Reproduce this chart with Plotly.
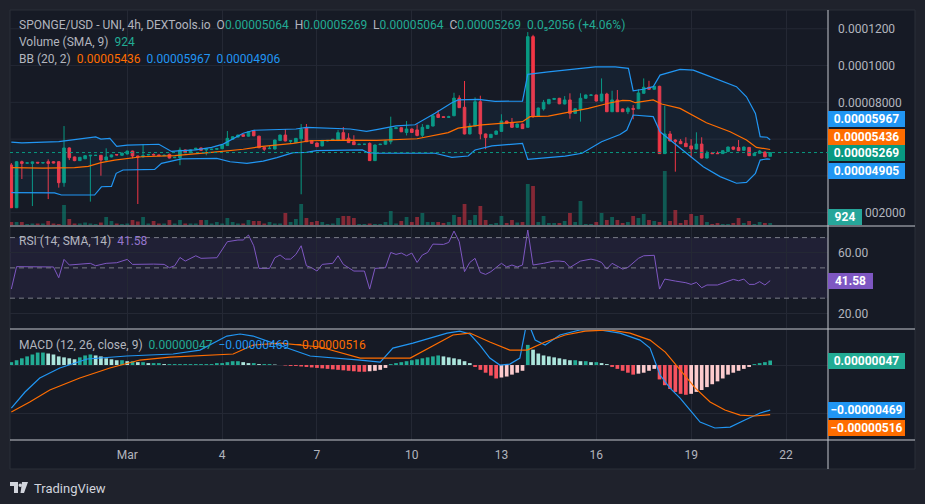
import plotly.graph_objects as go

# ---------------- data (prices in 1e-5 units) ----------------
open_e5 = [4.59,2.27,4.77,4.69,4.68,4.74,4.70,4.77,4.77,4.77,3.63,5.52,5.03,4.83,4.93,5.09,5.11,5.12,4.86,5.03,
           5.16,5.12,5.19,5.35,5.08,5.03,5.14,5.16,5.14,5.10,5.17,4.99,4.99,5.41,5.26,5.45,5.52,5.41,5.43,5.45,
           5.48,5.65,5.99,6.11,6.24,6.16,6.46,6.16,5.55,5.48,5.46,5.92,6.22,5.88,5.81,6.02,6.62,5.92,5.79,5.63,
           5.90,5.93,5.92,6.35,6.05,5.86,5.70,5.72,5.77,4.83,5.70,5.72,5.86,6.57,6.62,6.36,6.55,6.50,6.21,6.58,
           6.71,7.35,7.22,7.18,7.27,8.23,7.73,6.28,6.71,8.03,6.28,6.08,6.26,6.42,6.98,6.91,6.64,6.82,6.64,11.57,
           7.26,7.64,7.92,8.16,8.22,7.91,8.13,7.40,7.62,8.22,8.38,8.40,8.07,8.45,7.49,8.13,7.64,7.49,7.67,7.65,
           8.49,8.82,8.71,8.87,5.21,6.28,5.95,5.88,5.77,5.63,5.46,5.73,4.97,5.25,5.23,5.21,5.32,5.57,5.54,5.39,
           5.55,5.10,5.23,5.30,5.064]
high_e5 = [4.70,4.80,4.83,4.72,4.78,4.75,4.73,4.90,4.80,4.80,6.71,5.55,5.05,5.03,5.12,5.14,5.14,5.14,5.50,5.16,
           5.19,5.26,5.37,5.37,5.10,5.72,5.18,5.22,5.16,5.16,5.21,5.03,5.55,5.43,5.43,5.52,5.54,5.52,5.47,5.50,
           5.70,6.44,6.15,6.24,6.26,6.42,6.48,6.18,5.57,5.64,5.97,6.24,6.55,5.94,6.06,6.82,6.82,5.94,5.81,5.95,
           5.95,6.01,6.49,6.66,6.32,6.21,5.74,5.74,5.82,5.70,5.74,5.92,7.22,6.64,6.64,6.98,6.57,6.80,6.82,6.77,
           7.29,7.58,7.24,7.27,8.52,8.38,9.16,6.86,8.27,8.36,6.30,6.28,6.46,7.35,7.00,7.15,6.84,6.84,11.82,11.67,
           7.71,8.13,8.18,8.23,8.24,8.34,8.49,7.67,8.49,8.42,8.42,8.42,9.30,8.52,8.63,8.67,7.66,7.76,7.85,8.71,
           9.30,9.17,8.89,8.90,7.81,6.44,5.99,6.00,6.10,6.00,6.37,6.10,5.37,5.30,5.33,5.39,5.59,5.59,5.95,5.59,
           5.57,5.25,5.41,5.32,5.269]
low_e5 = [2.25,2.25,3.83,4.68,2.36,4.69,4.69,2.74,4.68,3.36,3.41,4.86,4.80,4.81,4.92,2.60,5.09,4.01,4.84,5.01,
          5.12,5.10,5.17,4.96,2.47,5.01,5.12,5.12,5.08,5.08,4.95,4.97,4.58,5.24,5.24,5.43,5.37,5.12,5.41,5.43,
          5.46,5.63,5.97,6.09,6.13,6.14,6.16,5.51,5.35,5.46,5.44,5.90,5.88,5.75,5.79,3.00,5.84,5.75,5.57,5.61,
          5.88,5.91,5.90,5.97,5.79,5.68,5.68,5.70,4.81,4.81,5.68,5.70,5.72,6.55,6.38,6.20,6.34,6.15,6.10,6.56,
          6.69,7.16,7.16,7.16,7.25,7.69,6.26,6.26,6.69,5.99,5.45,6.06,6.24,6.40,6.84,6.62,6.62,6.55,6.62,7.15,
          7.24,7.55,7.90,8.14,7.90,7.89,7.11,7.38,6.95,8.20,8.36,8.05,8.05,7.47,7.47,7.47,7.47,7.36,7.08,7.63,
          8.47,8.69,8.69,5.19,5.19,5.88,4.23,5.73,5.57,4.99,5.44,4.95,4.95,5.19,5.19,5.19,5.30,5.40,5.35,5.37,
          5.08,5.08,5.21,5.02,5.064]
close_e5 = [2.27,4.77,4.68,4.71,4.76,4.70,4.72,4.68,4.70,3.63,5.52,4.99,4.83,5.01,5.10,5.12,5.12,4.86,5.03,5.14,
            5.14,5.24,5.35,5.08,5.03,5.10,5.16,5.14,5.10,5.12,4.97,5.01,5.41,5.26,5.41,5.50,5.39,5.48,5.45,5.48,
            5.68,6.04,6.13,6.22,6.15,6.40,6.18,5.53,5.45,5.50,5.95,6.22,5.90,5.92,6.04,6.53,5.86,5.77,5.59,5.93,
            5.93,5.99,6.35,5.99,5.81,5.70,5.72,5.72,4.83,5.68,5.72,5.90,6.59,6.62,6.40,6.55,6.36,6.20,6.64,6.75,
            7.27,7.18,7.18,7.22,8.23,7.71,6.28,6.71,8.03,6.28,6.08,6.26,6.44,6.98,6.86,6.64,6.82,6.57,11.57,7.26,
            7.69,8.00,8.16,8.21,7.92,8.13,7.40,7.65,8.22,8.40,8.40,8.07,8.45,7.49,8.13,7.49,7.49,7.67,7.62,8.51,
            8.82,8.71,8.87,5.21,6.28,5.90,5.88,5.75,5.59,5.46,5.73,4.97,5.23,5.21,5.21,5.37,5.57,5.45,5.37,5.57,
            5.10,5.23,5.35,5.04,5.269]
volume = [1380,1380,1380,460,690,690,690,1840,690,460,9200,2760,690,690,1150,690,460,1150,3680,1840,
          690,460,690,2300,1610,3680,690,1840,690,690,2300,690,2300,690,690,690,2300,2300,690,1380,
          690,3220,1380,690,690,2300,1840,1840,690,1380,690,690,5520,1380,2760,9660,3220,1380,1840,1380,
          460,690,3220,4140,4140,3220,460,460,690,460,460,1380,6440,690,1840,3680,1380,3680,5520,1380,
          1380,1380,920,1380,4600,3680,9660,2300,4600,8740,2300,460,920,4140,920,2300,1150,1380,18860,17940,
          1380,4140,920,920,920,1840,5520,1380,11040,460,460,1380,5520,2300,3680,2300,920,1380,4140,3220,
          5060,2300,1840,1380,24840,1840,6900,920,2300,5060,4140,4600,1380,460,920,460,460,920,3220,920,
          1840,460,1380,920,924]

bb_upper_idx = [0,2,9,16,17,18.7,20,22,28,30.4,31.6,35,38,40.2,44,46,54,56,64.3,67.4,69.3,73,76.6,80.4,83.6,
                84.8,88.6,91.8,97,98,101.9,105.7,110.8,114.6,117.1,118,119.9,121.8,123.1,126.9,129.4,131.9,
                134.5,137.6,139.5,141.2,142.1,143.4,144]
bb_upper_e5 = [5.84,5.79,5.86,6.12,6.00,6.04,5.60,5.67,5.72,5.33,5.36,5.42,5.55,5.73,6.32,6.48,6.55,6.64,6.55,
               6.42,6.52,6.72,6.78,7.40,7.98,8.13,8.16,8.05,8.07,9.52,9.66,9.76,9.93,9.93,9.85,8.63,8.71,8.85,
               9.48,9.79,9.75,9.48,9.21,8.85,8.30,7.40,6.13,6.10,5.967]
bb_mid_idx = [0,6,12,14.6,17,19.6,24.7,31,38.5,44,47.2,53.5,56.7,63,69.3,77,82.9,84.8,89.3,97,98.4,101.9,106.3,
              109.5,113.3,116,117.4,118.4,121.8,123.4,126.9,131.9,136.4,139.5,141.4,143.4,144]
bb_mid_e5 = [4.45,4.42,4.45,4.52,4.72,4.86,5.04,5.10,5.29,5.45,5.59,5.77,5.91,5.95,5.93,6.02,6.35,6.60,6.77,6.95,
             7.22,7.25,7.49,7.67,7.95,8.11,8.09,7.98,8.13,7.91,7.67,6.89,6.40,5.95,5.55,5.48,5.436]
bb_lower_idx = [0,8.2,9.5,15.8,17.1,19,19.9,21.2,27.2,28.5,32.3,39,41.5,44.7,47.8,50.4,53.5,56,57.9,66.6,67.7,
                69.3,80.4,83.6,86.7,88,91.2,97,98,105.1,108.3,112,115.5,116.8,118,121.8,123.1,126.9,131.3,
                134.5,137.6,139.5,141.2,142.1,143.4,144]
bb_lower_e5 = [3.09,3.08,2.96,2.96,3.41,3.43,4.14,4.32,4.35,4.68,4.92,4.95,4.77,4.68,4.80,4.99,5.26,5.28,5.37,
               5.41,5.26,5.23,5.23,5.01,5.08,5.41,5.63,5.77,4.90,5.08,5.23,5.86,6.25,6.49,7.31,7.22,6.40,5.50,
               4.50,3.96,3.60,3.65,4.14,4.86,4.93,4.906]

rsi_idx = [0,1,8,9,10,11,15,16,18,20,22,23,27,29,30,31,32,33,35,36,39,41,43,44,45,46,47,49,50,51,52,53,54,55,
           56,57,58,59,61,62,63,65,67,68,69,71,72,73,74,75,76,77,78,79,80,82,83,84,85,86,87,88,89,90,91,93,94,
           95,96,97,98,99,101,103,104,105,106,108,110,111,112,113,114,116,117,119,120,122,123,124,126,128,129,
           130,131,132,134,137,138,139,140,141,142,143,144]
rsi_val = [36.0,50.8,50.6,43.5,55.6,51.9,53.0,51.4,53.0,53.4,55.6,52.3,52.5,52.3,50.1,51.4,56.9,54.5,58.0,56.3,
           56.7,67.3,68.4,68.4,71.7,64.6,49.7,49.7,56.7,58.5,55.8,55.8,58.9,64.6,51.4,50.1,47.9,52.3,53.0,58.0,
           52.3,47.9,47.9,36.0,49.7,50.1,60.2,58.9,59.8,58.0,59.8,53.6,58.5,60.2,65.7,65.5,66.8,74.3,67.3,47.5,
           53.6,56.3,47.0,45.7,47.5,53.0,50.6,51.9,50.6,51.9,75.0,51.9,53.0,54.5,54.5,54.1,50.3,54.5,55.8,55.0,
           53.6,49.2,53.0,49.2,50.3,56.3,58.0,58.3,36.0,42.6,41.3,40.2,39.1,40.4,36.9,38.7,38.7,42.4,41.5,42.6,
           39.1,39.1,40.9,38.7,41.58]

# MACD values in 1e-7 units
macd_idx = [0,2.6,5.4,9.2,14.4,21.9,30.7,35.8,40.9,43.4,45.9,51.6,56.7,66.2,70,72.4,76.2,82.7,85.1,87,88.9,90.8,
            92.7,94.6,96.5,97.9,99.4,101.3,104.1,107.9,111.7,115.5,119.3,121.2,123.1,125,126.9,128.8,130.7,133.5,
            136.4,139.2,142.1,144]
macd_e7 = [-44.8,-28.1,-13.5,-3.1,6.3,9.4,11.5,15.6,30.2,32.3,30.2,18.8,9.4,5.2,3.1,17.7,22.9,33.3,35.4,32.3,
           20.8,7.3,0,1.0,7.3,46.9,26,20.8,31.3,36.5,36.5,33.3,26,17.7,-10.4,-24,-34.4,-46.9,-59.4,-65.6,-64.6,
           -57.3,-50,-46.9]
signal_idx = [0,3.5,7.3,13,18.7,24.4,30.1,42.1,45.9,51,58.6,66.2,75.7,83.8,87,90.8,94.6,97.9,101.3,105.1,108.9,
              113.6,117.4,121.2,124.1,126.9,129.8,132.6,135.4,138.3,141.1,144]
signal_e7 = [-49,-38.5,-26,-13.5,-3.1,5.2,8.3,11.5,20.8,22.9,18.8,7.3,7.3,31.3,33.3,24,15.6,15.6,24,31.3,35.4,
             36.5,33.3,26,13.5,-5.2,-24,-38.5,-46.9,-52.1,-53.1,-51.6]
hist_e7 = [3,5,7,9,11,13,13,12,11,9,8,7,6,8,10,11,10,9,7,6,5,5,4,4,3,3,2,2,2,1,1,
           1,1,1,1,1,1,1,1,2,2,3,4,4,3,2,2,1,1,1,
           0.5,0,-0.5,-1,-1,-1.5,-2,-2.5,-3,-3.5,-4,-4.5,-5,-5.5,-6,-6.5,-7,-7,-6.5,-6,-5,-3,
           1,2,3,4,5,6,7,8,9,10,9,8,7,6,4,2,
           -2,-5,-8,-11,-14,-13,-12,-10,-8,-6,
           21,16,12,10,9,8,7,6,5,5,4,4,3,3,
           2,1,-2,-4,-6,-8,-10,-9,-8,-6,-4,
           -15,-21,-25,-28,-30,-31,-30,-28,-26,-23,-20,-17,-14,-10,-8,-6,-4,-2,1,2,3,4.7]

date_tick_idx = [22, 40, 58, 76, 93, 111, 129, 147]
date_tick_text = ["Mar", "4", "7", "10", "13", "16", "19", "22"]
price_grid_e5 = [2, 4, 6, 8, 10, 12]
# price labels at 2/4/6 are covered by the value tags on the axis (as in the reference)
price_label_e5 = [8, 10, 12]
price_label_text = ["0.00008000", "0.0001000", "0.0001200"]
rsi_ticks = [20, 60]
rsi_tick_text = ["20.00", "60.00"]

# ---------------- styling ----------------
BG = "#161a25"
OUTER = "#1f222c"
GRID = "#242834"
TEXT = "#b2b5be"
UP = "#089981"
DN = "#f23645"
BLUE = "#2196f3"
ORANGE = "#ff6d00"
PURPLE = "#7e57c2"
FONT = "Roboto"

L, R, T, B = 10, 97, 10, 64
PW, PH = 925 - L - R, 504 - T - B


def px(x):
    return (x - L) / PW


def py(y):
    return (504 - B - y) / PH


E5 = 1e-5
o = [v * E5 for v in open_e5]
h = [v * E5 for v in high_e5]
lo = [v * E5 for v in low_e5]
c = [v * E5 for v in close_e5]
N = len(c)
idx = list(range(N))

fig = go.Figure()

# volume (base axis y, drawn below)
vol_colors = ["rgba(8,153,129,0.5)" if c[i] >= o[i] else "rgba(242,54,69,0.5)" for i in idx]
fig.add_trace(go.Bar(x=idx, y=volume, marker=dict(color=vol_colors, line=dict(width=0)), width=0.72,
                     yaxis="y", hoverinfo="skip"))

# Bollinger fill + lines (price axis y2)
fig.add_trace(go.Scatter(x=bb_upper_idx + bb_lower_idx[::-1],
                         y=[v * E5 for v in bb_upper_e5] + [v * E5 for v in bb_lower_e5[::-1]],
                         fill="toself", fillcolor="rgba(33,150,243,0.06)", line=dict(width=0),
                         mode="lines", yaxis="y2", hoverinfo="skip"))
fig.add_trace(go.Scatter(x=bb_upper_idx, y=[v * E5 for v in bb_upper_e5], mode="lines",
                         line=dict(color=BLUE, width=1.2), yaxis="y2", hoverinfo="skip"))
fig.add_trace(go.Scatter(x=bb_lower_idx, y=[v * E5 for v in bb_lower_e5], mode="lines",
                         line=dict(color=BLUE, width=1.2), yaxis="y2", hoverinfo="skip"))
fig.add_trace(go.Scatter(x=bb_mid_idx, y=[v * E5 for v in bb_mid_e5], mode="lines",
                         line=dict(color=ORANGE, width=1.2), yaxis="y2", hoverinfo="skip"))

# candles
fig.add_trace(go.Candlestick(x=idx, open=o, high=h, low=lo, close=c, yaxis="y2",
                             increasing=dict(line=dict(color=UP, width=1), fillcolor=UP),
                             decreasing=dict(line=dict(color=DN, width=1), fillcolor=DN),
                             hoverinfo="skip"))

# RSI
fig.add_trace(go.Scatter(x=rsi_idx, y=rsi_val, mode="lines", line=dict(color=PURPLE, width=1),
                         yaxis="y3", hoverinfo="skip"))

# MACD histogram
hist_colors = []
for i, v in enumerate(hist_e7):
    prev = hist_e7[i - 1] if i > 0 else v
    if v >= 0:
        hist_colors.append("#22ab94" if v >= prev else "#ace5dc")
    else:
        hist_colors.append("#f7525f" if v <= prev else "#fccbcd")
fig.add_trace(go.Bar(x=idx, y=hist_e7, marker=dict(color=hist_colors, line=dict(width=0)), width=0.7,
                     yaxis="y4", hoverinfo="skip"))
fig.add_trace(go.Scatter(x=macd_idx, y=macd_e7, mode="lines", line=dict(color=BLUE, width=1.2),
                         yaxis="y4", hoverinfo="skip"))
fig.add_trace(go.Scatter(x=signal_idx, y=signal_e7, mode="lines", line=dict(color=ORANGE, width=1.2),
                         yaxis="y4", hoverinfo="skip"))

main_dom = [py(225), py(10)]
rsi_dom = [py(328), py(227)]
macd_dom = [py(440), py(330)]

fig.update_layout(
    width=925, height=504,
    margin=dict(l=L, r=R, t=T, b=B),
    paper_bgcolor=OUTER, plot_bgcolor=BG,
    showlegend=False,
    font=dict(family=FONT, size=12, color=TEXT),
    xaxis=dict(domain=[0, 1], range=[-0.25, 154.97], anchor="y4", tickvals=date_tick_idx,
               ticktext=date_tick_text, showgrid=True, gridcolor=GRID, gridwidth=1, zeroline=False,
               showline=False, ticks="", ticklabelstandoff=6, tickfont=dict(size=12, color=TEXT),
               rangeslider=dict(visible=False), fixedrange=True),
    yaxis=dict(domain=main_dom, range=[0, 215 * 460], visible=False, fixedrange=True),
    yaxis2=dict(overlaying="y", range=[1.33 * E5, 13.02 * E5], side="right",
                tickvals=[v * E5 for v in price_label_e5], ticktext=price_label_text,
                showgrid=False, zeroline=False, ticks="", ticklabelstandoff=9,
                tickfont=dict(size=12, color=TEXT), fixedrange=True),
    yaxis3=dict(domain=rsi_dom, range=[10.3, 77.0], side="right", anchor="x", tickvals=rsi_ticks,
                ticktext=rsi_tick_text, showgrid=True, gridcolor=GRID, zeroline=False, ticks="",
                ticklabelstandoff=9, tickfont=dict(size=12, color=TEXT), fixedrange=True),
    yaxis4=dict(domain=macd_dom, range=[-78.1, 36.5], side="right", anchor="x", tickvals=[0, -50],
                showticklabels=False, showgrid=True, gridcolor=GRID, zeroline=False, fixedrange=True),
    bargap=0.3,
)

shapes = []
# chart background / frame
shapes.append(dict(type="rect", xref="paper", yref="paper", x0=px(10), x1=px(915), y0=py(469), y1=py(10),
                   fillcolor=BG, line=dict(color="#2a2e39", width=1), layer="below"))
# price grid lines
for g in price_grid_e5:
    shapes.append(dict(type="line", xref="paper", yref="y2", x0=0, x1=1, y0=g * E5, y1=g * E5,
                       line=dict(color=GRID, width=1), layer="below"))
# pane separators
SEP = "#c3c6ce"
for yy in (226, 329, 440):
    shapes.append(dict(type="line", xref="paper", yref="paper", x0=px(10), x1=px(915), y0=py(yy), y1=py(yy),
                       line=dict(color=SEP, width=1)))
shapes.append(dict(type="line", xref="paper", yref="paper", x0=px(828), x1=px(828), y0=py(469), y1=py(10),
                   line=dict(color=SEP, width=1)))
# RSI band + dashed levels
shapes.append(dict(type="rect", xref="paper", yref="y3", x0=0, x1=1, y0=30, y1=70,
                   fillcolor="rgba(126,87,194,0.10)", line=dict(width=0), layer="below"))
for lv in (70, 50, 30):
    shapes.append(dict(type="line", xref="paper", yref="y3", x0=0, x1=1, y0=lv, y1=lv,
                       line=dict(color="#787b86", width=1, dash="5px,4px")))
# last price dotted line
shapes.append(dict(type="line", xref="paper", yref="y2", x0=0, x1=1, y0=c[-1], y1=c[-1],
                   line=dict(color=UP, width=1, dash="dot")))
# TradingView logo
LOGO = "#d1d4dc"
shapes.append(dict(type="rect", xref="paper", yref="paper", x0=px(10), x1=px(18), y0=py(486), y1=py(482),
                   fillcolor=LOGO, line=dict(width=0)))
shapes.append(dict(type="rect", xref="paper", yref="paper", x0=px(14), x1=px(18), y0=py(493), y1=py(482),
                   fillcolor=LOGO, line=dict(width=0)))
shapes.append(dict(type="circle", xref="paper", yref="paper", x0=px(18.5), x1=px(22), y0=py(487), y1=py(483.5),
                   fillcolor=LOGO, line=dict(width=0)))
shapes.append(dict(type="path", xref="paper", yref="paper",
                   path=f"M {px(22)} {py(482)} L {px(28)} {py(482)} L {px(24)} {py(493)} L {px(20.5)} {py(493)} Z",
                   fillcolor=LOGO, line=dict(width=0)))
fig.update_layout(shapes=shapes)

NB = "\u00a0"


def span(col, t):
    return f'<span style="color:{col}">{t}</span>'


TEAL = "#22ab94"
ann = []
legend_lines = [
    (25, "SPONGE/USD - UNI, 4h, DEXTools.io" + NB * 2 + "O" + span(TEAL, "0.00005064") + NB * 2 + "H" +
     span(TEAL, "0.00005269") + NB * 2 + "L" + span(TEAL, "0.00005064") + NB * 2 + "C" +
     span(TEAL, "0.00005269") + NB * 2 + span(TEAL, "0.0\u20852056 (+4.06%)")),
    (42.3, "Volume (SMA, 9)" + NB * 2 + span(TEAL, "924")),
    (59.3, "BB (20, 2)" + NB * 2 + span(ORANGE, "0.00005436") + NB * 2 + span(BLUE, "0.00005967") + NB * 2 +
     span(BLUE, "0.00004906")),
    (240.7, "RSI (14, SMA, 14)" + NB * 2 + span("#9575cd", "41.58")),
    (345, "MACD (12, 26, close, 9)" + NB * 2 + span(TEAL, "0.00000047") + NB * 2 + span(BLUE, "\u22120.00000469") +
     NB * 2 + span(ORANGE, "\u22120.00000516")),
]
for yy, t in legend_lines:
    ann.append(dict(xref="paper", yref="paper", x=px(17), y=py(yy), xanchor="left", yanchor="middle",
                    text=t, showarrow=False, font=dict(family=FONT, size=12, color=TEXT)))


def axis_label(yy, t, bg, w=77):
    ann.append(dict(xref="paper", yref="paper", x=px(828), y=py(yy), xanchor="left", yanchor="middle",
                    text=f"<b>{t}</b>", showarrow=False, bgcolor=bg, borderpad=2, borderwidth=0,
                    width=w - 4, height=12, align="center",
                    font=dict(family=FONT, size=12, color="#ffffff")))


axis_label(119, "0.00005967", BLUE)
axis_label(136.7, "0.00005436", ORANGE)
axis_label(153.3, "0.00005269", UP)
axis_label(170.7, "0.00004905", BLUE)
axis_label(216.5, "924", "#26a69a", w=34)
axis_label(280.6, "41.58", PURPLE, w=45)
axis_label(361.3, "0.00000047", TEAL)
axis_label(410, "\u22120.00000469", BLUE)
axis_label(427.7, "\u22120.00000516", ORANGE)

# visible remainder of the 0.00002000 price label, beside the volume tag
ann.append(dict(xref="paper", yref="paper", x=px(863), y=py(212.7), xanchor="left", yanchor="middle",
                text="002000", showarrow=False, font=dict(family=FONT, size=12, color=TEXT)))

ann.append(dict(xref="paper", yref="paper", x=px(32), y=py(488), xanchor="left", yanchor="middle",
                text="TradingView", showarrow=False, font=dict(family=FONT, size=13, color=LOGO)))
fig.update_layout(annotations=ann)

fig.write_html("out.html", config=dict(displayModeBar=False, staticPlot=True))
